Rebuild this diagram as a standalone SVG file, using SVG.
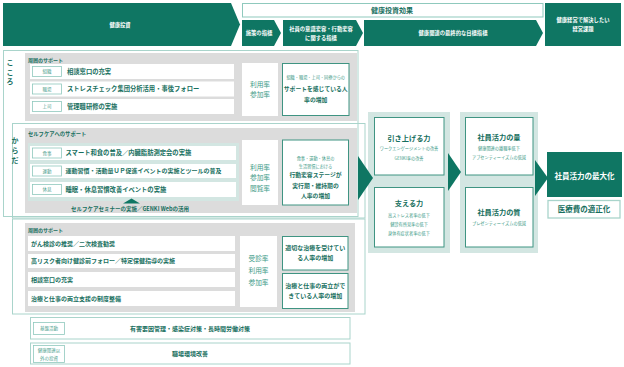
<svg xmlns="http://www.w3.org/2000/svg" width="624" height="367" viewBox="0 0 624 367">
<style>
text{font-family:"Noto Sans CJK JP","Noto Sans",sans-serif}
.dk{fill:#0f7663}
.hd{font-size:5.3px;font-weight:bold;fill:#fff}
.frame{fill:none;stroke:#a9d4cb;stroke-width:1}
.gray{fill:#dcdcdc}
.panel{fill:#d3e6e2}
.grp{fill:#d3e6e2}
.row{fill:#fff}
.tag{fill:#fff;stroke:#8fc9bd;stroke-width:0.8}
.tagt{font-size:4.5px;fill:#4f9f8f}
.rt{font-weight:bold;font-size:6.3px;fill:#176f5e}
.rt6{font-weight:bold;font-size:6px;fill:#176f5e}
.lbl{font-weight:bold;font-size:5px;fill:#176f5e}
.side{font-weight:bold;font-size:7px;fill:#176f5e}
.rate{font-size:6.7px;fill:#3d9a87}
.ob{fill:#fff;stroke:#3f9482;stroke-width:1}
.os{font-size:4.2px;fill:#3d9a87}
.obt{font-weight:bold;font-size:5.8px;fill:#176f5e}
.ttl{font-weight:bold;font-size:7.2px;fill:#176f5e}
.wb{fill:#fff;stroke:#a9d4cb;stroke-width:1}
.c{text-anchor:middle}
</style>

<g id="header">
  <g id="h-invest">
    <polygon class="dk" points="3,3 231,3 240,24.5 231,46 3,46"/>
    <text class="hd c" x="120" y="26.5">健康投資</text>
  </g>
  <g id="h-effect">
    <rect class="wb" x="242.5" y="3.5" width="300.5" height="13.5" style="stroke:#8fc9bd"/>
    <text class="c" x="392" y="12.5" style="font-size:7px;font-weight:bold;fill:#176f5e">健康投資効果</text>
  </g>
  <g id="h-measure">
    <polygon class="dk" points="242,20 274,20 281,33 274,46 242,46"/>
    <text class="hd c" x="259" y="35">施策の指標</text>
  </g>
  <g id="h-behavior">
    <polygon class="dk" points="283,20 356,20 363,33 356,46 283,46"/>
    <text class="hd c" x="321" y="31">社員の意識変容・行動変容</text>
    <text class="hd c" x="321" y="40">に関する指標</text>
  </g>
  <g id="h-goal">
    <polygon class="dk" points="364,20 536,20 543,33 536,46 364,46"/>
    <text class="hd c" x="453" y="35">健康関連の最終的な目標指標</text>
  </g>
  <g id="h-issue">
    <rect class="dk" x="545" y="3" width="76" height="43"/>
    <text class="hd c" x="583" y="22">健康経営で解決したい</text>
    <text class="hd c" x="583" y="31">経営課題</text>
  </g>
</g>

<g id="kokoro">
  <rect class="frame" x="3.5" y="50.5" width="354.5" height="166"/>
  <text class="side c" x="10" y="64.5">こ</text>
  <text class="side c" x="10" y="74.5">こ</text>
  <text class="side c" x="10" y="84">ろ</text>
  <rect class="gray" x="25" y="53" width="332" height="68"/>
  <text class="lbl" x="28" y="62">周囲のサポート</text>
  <rect class="row" x="30" y="64" width="204" height="15"/>
  <rect class="tag" x="32.5" y="66.5" width="29" height="10"/>
  <text class="tagt c" x="47" y="73">組織</text>
  <text class="rt" x="67" y="73.8">相談窓口の充実</text>
  <rect class="row" x="30" y="81.5" width="204" height="15"/>
  <rect class="tag" x="32.5" y="84" width="29" height="10"/>
  <text class="tagt c" x="47" y="90.6">職場</text>
  <text class="rt" x="67" y="91.3">ストレスチェック集団分析活用・事後フォロー</text>
  <rect class="row" x="30" y="99" width="204" height="15"/>
  <rect class="tag" x="32.5" y="101.5" width="29" height="10"/>
  <text class="tagt c" x="47" y="108.1">上司</text>
  <text class="rt" x="67" y="108.8">管理職研修の実施</text>
  <rect class="row" x="242" y="63" width="36" height="53"/>
  <text class="rate c" x="260" y="86.5">利用率</text>
  <text class="rate c" x="260" y="96.5">参加率</text>
  <rect class="ob" x="282.5" y="63.5" width="66.5" height="52"/>
  <text class="os c" x="315.7" y="78.5">組織・職場・上司・同僚からの</text>
  <text class="obt c" x="315.7" y="91">サポートを感じている人</text>
  <text class="obt c" x="315.7" y="102">率の増加</text>
</g>

<g id="karada">
  <rect class="frame" x="12.5" y="123.5" width="352.5" height="94.5"/>
  <text class="side c" x="15" y="142.5">か</text>
  <text class="side c" x="15" y="152.5">ら</text>
  <text class="side c" x="15" y="163">だ</text>
  <rect class="gray" x="25" y="128" width="332" height="85"/>
  <text class="lbl" x="28" y="136" style="font-size:5.3px">セルフケアへのサポート</text>
  <rect class="panel" x="28" y="143" width="211" height="58"/>
  <rect class="row" x="30" y="146" width="206" height="14"/>
  <rect class="tag" x="32.5" y="148" width="29" height="10"/>
  <text class="tagt c" x="47" y="154.6">食事</text>
  <text class="rt" x="65.5" y="155.3">スマート和食の普及／内臓脂肪測定会の実施</text>
  <rect class="row" x="30" y="164" width="206" height="14"/>
  <rect class="tag" x="32.5" y="166" width="29" height="10"/>
  <text class="tagt c" x="47" y="172.6">運動</text>
  <text class="rt6" x="65.5" y="173.2">運動習慣・活動量ＵＰ促進イベントの実施とツールの普及</text>
  <rect class="row" x="30" y="182" width="206" height="15"/>
  <rect class="tag" x="32.5" y="184.5" width="29" height="10"/>
  <text class="tagt c" x="47" y="191.1">休息</text>
  <text class="rt" x="65.5" y="191.8">睡眠・休息習慣改善イベントの実施</text>
  <polygon class="dk" points="123,203.5 140,203.5 131.5,198.5"/>
  <text class="c" x="130" y="211" style="font-size:5.5px;font-weight:bold;fill:#176f5e">セルフケアセミナーの実施／GENKI Webの活用</text>
  <rect class="row" x="242" y="140" width="36" height="65"/>
  <text class="rate c" x="260" y="170">利用率</text>
  <text class="rate c" x="260" y="180">参加率</text>
  <text class="rate c" x="260" y="190.5">閲覧率</text>
  <rect class="ob" x="282.5" y="140" width="66" height="65"/>
  <text class="os c" x="315.5" y="159.5">食事・運動・休息の</text>
  <text class="os c" x="315.5" y="167.5">生活習慣における</text>
  <text class="obt c" x="315.5" y="177">行動変容ステージが</text>
  <text class="obt c" x="315.5" y="188">実行期・維持期の</text>
  <text class="obt c" x="315.5" y="198">人率の増加</text>
</g>

<g id="disease">
  <rect class="frame" x="12.5" y="219" width="352.5" height="95"/>
  <rect class="gray" x="25" y="223" width="330" height="89"/>
  <text class="lbl" x="28" y="232">周囲のサポート</text>
  <rect class="row" x="28" y="236" width="207" height="15"/>
  <text class="rt6" x="31" y="245.6">がん検診の推奨／二次検査勧奨</text>
  <rect class="row" x="28" y="254" width="207" height="14"/>
  <text class="rt6" x="31" y="263.1">高リスク者向け健診前フォロー／特定保健指導の実施</text>
  <rect class="row" x="28" y="272" width="207" height="15"/>
  <text class="rt6" x="31" y="281.6">相談窓口の充実</text>
  <rect class="row" x="28" y="291" width="207" height="15"/>
  <text class="rt6" x="31" y="300.6">治療と仕事の両立支援の制度整備</text>
  <rect class="row" x="240" y="236" width="37" height="71"/>
  <text class="rate c" x="258.5" y="261.4">受診率</text>
  <text class="rate c" x="258.5" y="273.4">利用率</text>
  <text class="rate c" x="258.5" y="285.4">参加率</text>
  <rect class="ob" x="282.5" y="236.5" width="65.5" height="33.5"/>
  <text class="obt c" x="315.2" y="250" style="font-size:6px">適切な治療を受けてい</text>
  <text class="obt c" x="315.2" y="260" style="font-size:6px">る人率の増加</text>
  <rect class="ob" x="282.5" y="273.5" width="65.5" height="35"/>
  <text class="obt c" x="315.2" y="288" style="font-size:6px">治療と仕事の両立がで</text>
  <text class="obt c" x="315.2" y="298" style="font-size:6px">きている人率の増加</text>
</g>

<g id="base">
  <rect class="wb" x="30.5" y="317.5" width="319.5" height="21.5"/>
  <rect class="tag" x="33.5" y="322.5" width="31" height="12"/>
  <text class="tagt c" x="49" y="330.3">基盤活動</text>
  <text class="rt6 c" x="190" y="331">有害要因管理・感染症対策・長時間労働対策</text>
</g>
<g id="other">
  <rect class="wb" x="30.5" y="343" width="319.5" height="21"/>
  <rect class="tag" x="33.5" y="345.5" width="31" height="17"/>
  <text class="tagt c" x="49" y="352">健康関連以</text>
  <text class="tagt c" x="49" y="360">外の投資</text>
  <text class="rt6 c" x="190" y="356">職場環境改善</text>
</g>

<g id="col-lift">
  <rect class="grp" x="368" y="112" width="82" height="141"/>
  <rect class="ob" x="374.5" y="117.5" width="69.5" height="57.5"/>
  <text class="ttl c" x="409" y="140.5">引き上げる力</text>
  <text class="os c" x="409" y="149.5">ワークエンゲージメントの改善</text>
  <text class="os c" x="409" y="159.5">GENKI率の改善</text>
  <rect class="ob" x="374.5" y="187.5" width="69.5" height="59.5"/>
  <text class="ttl c" x="409" y="205.5">支える力</text>
  <text class="os c" x="409" y="216.5">高ストレス者率の低下</text>
  <text class="os c" x="409" y="225.5">健診有所見率の低下</text>
  <text class="os c" x="409" y="234.5">身体有症状者率の低下</text>
</g>

<g id="col-vitality">
  <rect class="grp" x="460" y="112" width="78" height="141"/>
  <rect class="ob" x="465.5" y="117.5" width="67.5" height="57.5"/>
  <text class="ttl c" x="499" y="139.5">社員活力の量</text>
  <text class="os c" x="499" y="149.5">健康関連の離職率低下</text>
  <text class="os c" x="499" y="158.5">アブセンティーイズムの低減</text>
  <rect class="ob" x="465.5" y="187.5" width="67.5" height="59.5"/>
  <text class="ttl c" x="499" y="214.5">社員活力の質</text>
  <text class="os c" x="499" y="224.5">プレゼンティーイズムの低減</text>
</g>

<g id="final">
  <rect class="dk" x="547" y="152" width="75" height="45"/>
  <text class="c" x="584.5" y="178.7" style="font-size:7.5px;font-weight:bold;fill:#fff">社員活力の最大化</text>
  <rect x="548" y="200.5" width="72" height="17.5" style="fill:#fff;stroke:#a9d4cb;stroke-width:1.3"/>
  <text class="c" x="584" y="211.8" style="font-size:7.5px;font-weight:bold;fill:#176f5e">医療費の適正化</text>
</g>

<g id="connectors">
  <polygon class="dk" points="358,156 373,178 358,200"/>
  <polygon class="dk" points="448,153 461,172 448,191"/>
  <polygon class="dk" points="535,160 548,178 535,196"/>
</g>
</svg>
